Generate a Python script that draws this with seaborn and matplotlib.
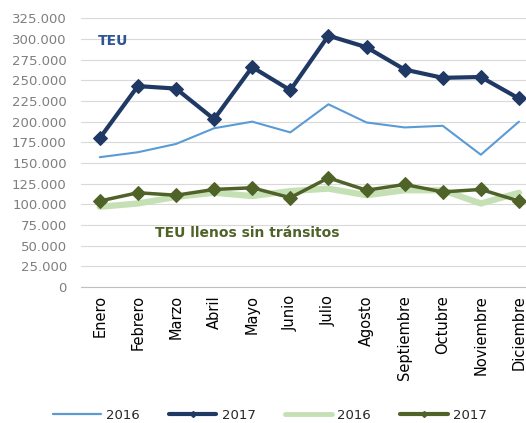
import matplotlib.pyplot as plt
import seaborn as sns
import pandas as pd
from matplotlib.lines import Line2D
from matplotlib.ticker import FuncFormatter, FixedLocator

# DATA
months = ["Enero", "Febrero", "Marzo", "Abril", "Mayo", "Junio", "Julio",
          "Agosto", "Septiembre", "Octubre", "Noviembre", "Diciembre"]
teu_2016 = [157000, 163000, 173000, 192000, 200000, 187000, 221000,
            199000, 193000, 195000, 160000, 200000]
teu_2017 = [180000, 243000, 240000, 203000, 266000, 238000, 304000,
            290000, 263000, 253000, 254000, 228000]
llenos_2016 = [97000, 101000, 109000, 114000, 110000, 116000, 119000,
               111000, 117000, 117000, 101000, 114000]
llenos_2017 = [104000, 114000, 111000, 118000, 120000, 108000, 132000,
               117000, 124000, 115000, 118000, 104000]

df = pd.DataFrame({"month": months, "teu16": teu_2016, "teu17": teu_2017,
                   "ll16": llenos_2016, "ll17": llenos_2017})

c_blue = "#5B9BD5"
c_navy = "#1F3864"
c_lgreen = "#C5E0B4"
c_olive = "#4F6228"

sns.set_style("white")
plt.rcParams["font.family"] = ["DejaVu Sans"]

fig = plt.figure(figsize=(5.26, 4.23), dpi=100)
ax = fig.add_axes([80.7 / 526, 1 - 287 / 423, (538 - 80.7) / 526, (287 - 18.3) / 423])

sns.lineplot(data=df, x="month", y="teu16", ax=ax, color=c_blue, lw=1.5, sort=False)
sns.lineplot(data=df, x="month", y="ll16", ax=ax, color=c_lgreen, lw=4.5, sort=False)
sns.lineplot(data=df, x="month", y="teu17", ax=ax, color=c_navy, lw=3, sort=False,
             marker="D", markersize=7, markeredgecolor=c_navy)
sns.lineplot(data=df, x="month", y="ll17", ax=ax, color=c_olive, lw=2.5, sort=False,
             marker="D", markersize=7, markeredgecolor=c_olive)

ax.set_xlim(-0.5, 11.5)
ax.set_ylim(0, 325000)
ax.set_yticks(range(0, 325001, 25000))
ax.yaxis.set_major_formatter(FuncFormatter(lambda v, p: f"{int(v):,}".replace(",", ".")))
ax.grid(axis="y", color="#D9D9D9", lw=0.8)
ax.set_axisbelow(True)
for s in ["left", "right", "top"]:
    ax.spines[s].set_visible(False)
ax.spines["bottom"].set_color("#BFBFBF")
ax.set_xlabel("")
ax.set_ylabel("")

ax.set_xticks(range(12))
ax.set_xticklabels(months, rotation=90, fontsize=10.5, color="black")
ax.xaxis.set_minor_locator(FixedLocator([i - 0.5 for i in range(13)]))
ax.tick_params(axis="x", which="major", length=0, pad=6)
ax.tick_params(axis="x", which="minor", length=6, color="#BFBFBF", width=0.8)
ax.tick_params(axis="y", length=0, labelsize=9.5, labelcolor="#7F7F7F", pad=10)

fig.text(98 / 526, 1 - 41 / 423, "TEU", color="#2F5597", fontsize=10,
         fontweight="bold", va="center")
fig.text(155 / 526, 1 - 233 / 423, "TEU llenos sin tránsitos", color=c_olive,
         fontsize=10, fontweight="bold", va="center")

handles = [
    Line2D([], [], color=c_blue, lw=1.6),
    Line2D([], [], color=c_navy, lw=3, marker="D", markersize=3),
    Line2D([], [], color=c_lgreen, lw=3.5),
    Line2D([], [], color=c_olive, lw=3, marker="D", markersize=3),
]
fig.legend(handles, ["2016", "2017", "2016", "2017"], ncol=4, frameon=False,
           loc="center", bbox_to_anchor=(270 / 526, 1 - 415 / 423),
           fontsize=9.5, handlelength=3.6, columnspacing=2.2, handletextpad=0.4)

fig.savefig("out.png", dpi=100)
